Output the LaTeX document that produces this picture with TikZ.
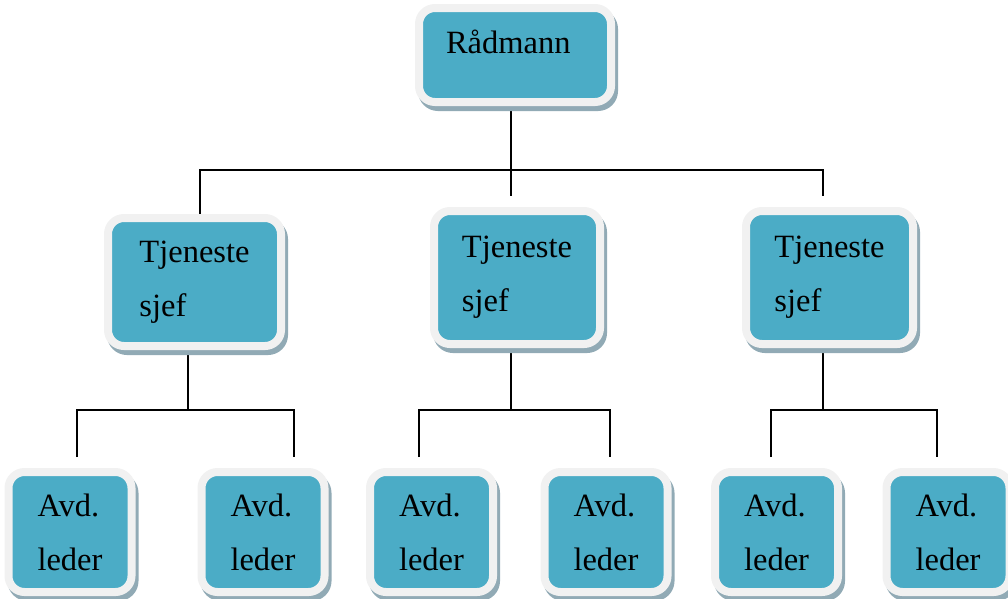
\documentclass[tikz,border=0pt]{standalone}
\usepackage{fontspec}
\setmainfont{Liberation Serif}
\usepackage{xcolor}
\usetikzlibrary{backgrounds}
\definecolor{boxfill}{RGB}{75,172,198}
\definecolor{boxrim}{RGB}{241,241,241}
\definecolor{boxshadow}{RGB}{145,170,181}

\begin{document}
\begin{tikzpicture}[x=1pt, y=-1pt,
  unit/.style={draw=boxrim, line width=8pt, fill=boxfill, rounded corners=16pt, inner sep=0pt, align=left,
    font=\fontsize{32.5}{54}\selectfont,
    preaction={draw=boxshadow, fill=boxshadow, line width=8pt, transform canvas={xshift=3pt, yshift=-5pt}}},
  chief/.style={unit, minimum width=166pt, minimum height=133pt},
  leader/.style={unit, minimum width=123pt, minimum height=120pt},
  link/.style={line width=2pt, black}]
  \useasboundingbox (0,0) rectangle (1008,598);
  \node[unit, minimum width=192pt, minimum height=94pt, text width=138pt, text height=24pt, text depth=28pt] (R) at (515,55) {Rådmann};
  \node[chief, minimum width=173pt, minimum height=128pt] (M1) at (194.5,282) {Tjeneste\\sjef};
  \node[chief] (M2) at (517,277.5) {Tjeneste\\sjef};
  \node[chief, minimum width=167pt] (M3) at (829.5,277.5) {Tjeneste\\sjef};
  \node[leader] (B1) at (70,532) {Avd.\\leder};
  \node[leader] (B2) at (263,532) {Avd.\\leder};
  \node[leader] (B3) at (431.5,532) {Avd.\\leder};
  \node[leader] (B4) at (606,532) {Avd.\\leder};
  \node[leader] (B5) at (776.5,532) {Avd.\\leder};
  \node[leader] (B6) at (948,532) {Avd.\\leder};
  \coordinate (top) at (511,170);
  \coordinate (s1) at (188,410);
  \coordinate (s2) at (511,410);
  \coordinate (s3) at (823,410);
  \begin{pgfonlayer}{background}
    \draw[link] ([xshift=-4pt]R.south) -- (top);
    \draw[link] ([xshift=5.5pt]M1.north) |- (top) -| ([xshift=-6.5pt, yshift=11pt]M3.north);
    \draw[link] (top) -- ([xshift=-6pt, yshift=11pt]M2.north);
    \draw[link] ([xshift=-6.5pt]M1.south) -- (s1);
    \draw[link] ([xshift=7pt, yshift=11pt]B1.north) |- (s1) -| ([xshift=31pt, yshift=11pt]B2.north);
    \draw[link] ([xshift=-6pt]M2.south) -- (s2);
    \draw[link] ([xshift=-12.5pt, yshift=11pt]B3.north) |- (s2) -| ([xshift=4pt, yshift=11pt]B4.north);
    \draw[link] ([xshift=-6.5pt]M3.south) -- (s3);
    \draw[link] ([xshift=-5.5pt, yshift=11pt]B5.north) |- (s3) -| ([xshift=-11pt, yshift=11pt]B6.north);
  \end{pgfonlayer}
\end{tikzpicture}
\end{document}
